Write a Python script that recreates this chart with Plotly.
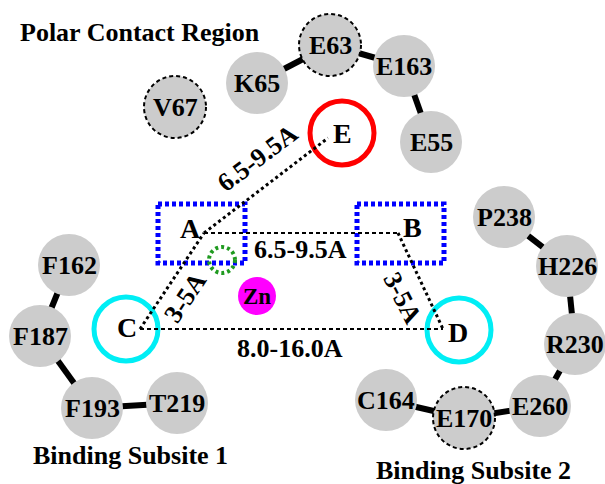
import plotly.graph_objects as go

# ---- data (pixel-space diagram coordinates, y grows downward) ----
residues = ["E63", "E163", "E55", "K65", "V67",
            "F162", "F187", "F193", "T219",
            "P238", "H226", "R230", "E260", "E170", "C164"]
res_x = [330, 404, 431, 257, 175, 69, 40, 92, 177, 504, 567, 575, 540, 464, 386]
res_y = [45, 66, 142, 83, 107, 265, 336, 408, 403, 217, 266, 344, 406, 418, 400]
res_dashed = ["E63", "V67", "E170"]

links = [("K65", "E63"), ("E63", "E163"), ("E163", "E55"),
         ("F162", "F187"), ("F187", "F193"), ("F193", "T219"),
         ("P238", "H226"), ("H226", "R230"), ("R230", "E260"),
         ("E260", "E170"), ("E170", "C164")]

sites = ["A", "B", "C", "D", "E"]
site_x = [204, 398, 140, 443, 328]
site_y = [233, 233, 329, 329, 138]
site_label_x = [190, 412, 127, 458, 342]
site_label_y = [228, 227, 327, 332, 133]

distances = [("A", "E", "6.5-9.5A", "dot"), ("A", "B", "6.5-9.5A", "dash"),
             ("C", "A", "3-5A", "dot"), ("B", "D", "3-5A", "dot"),
             ("C", "D", "8.0-16.0A", "dash")]
dist_label_x = [257, 300, 185, 403, 290]
dist_label_y = [158, 249, 297, 298, 348]
dist_label_angle = [-37, 0, -56, 63, 0]

regions = ["Polar Contact Region", "Binding Subsite 1", "Binding Subsite 2"]
region_x = [140, 130, 473]
region_y = [32, 455, 470]

FONT = "Liberation Serif"
R = 31

fig = go.Figure()
shapes = []
annotations = []

pos = dict(zip(residues, zip(res_x, res_y)))
spos = dict(zip(sites, zip(site_x, site_y)))

# residue chain links
for a, b in links:
    (x0, y0), (x1, y1) = pos[a], pos[b]
    shapes.append(dict(type="line", x0=x0, y0=y0, x1=x1, y1=y1,
                       line=dict(color="black", width=6)))

# residue circles
for name, x, y in zip(residues, res_x, res_y):
    dashed = name in res_dashed
    shapes.append(dict(type="circle", x0=x - R, x1=x + R, y0=y - R, y1=y + R,
                       fillcolor="#cccccc",
                       line=dict(color="black" if dashed else "#cccccc",
                                 width=2 if dashed else 0,
                                 dash="4px,3px" if dashed else "solid")))
    annotations.append(dict(x=x, y=y, text=f"<b>{name}</b>", showarrow=False,
                            font=dict(family=FONT, size=26, color="black")))

# pharmacophore boxes A, B
for name in ["A", "B"]:
    x0 = 158 if name == "A" else 357
    shapes.append(dict(type="rect", x0=x0, x1=x0 + 87, y0=204, y1=263,
                       line=dict(color="#0000ff", width=5, dash="4px,3px")))

# site circles C, D (cyan), E (red)
for cx, cy, col in [(126, 329, "#00eef5"), (459, 330, "#00eef5"), (342, 133, "#ff0000")]:
    shapes.append(dict(type="circle", x0=cx - 32, x1=cx + 32, y0=cy - 32, y1=cy + 32,
                       line=dict(color=col, width=5)))

# green dotted circle and Zn
shapes.append(dict(type="circle", x0=209, x1=235, y0=247, y1=273,
                   line=dict(color="#1f9a1f", width=4, dash="3px,3px")))
shapes.append(dict(type="circle", x0=238, x1=276, y0=277, y1=315,
                   fillcolor="#ff00ff", line=dict(width=0)))
annotations.append(dict(x=257, y=296, text="<b>Zn</b>", showarrow=False,
                        font=dict(family=FONT, size=23, color="black")))

# distance lines
for (a, b, lab, style), lx, ly, ang in zip(distances, dist_label_x, dist_label_y, dist_label_angle):
    (x0, y0), (x1, y1) = spos[a], spos[b]
    shapes.append(dict(type="line", x0=x0, y0=y0, x1=x1, y1=y1,
                       line=dict(color="black", width=3 if style == "dot" else 2,
                                 dash="3px,3px" if style == "dot" else "4px,3px")))
    annotations.append(dict(x=lx, y=ly, text=f"<b>{lab}</b>", showarrow=False,
                            textangle=ang,
                            font=dict(family=FONT, size=26, color="black")))

# site labels
for name, lx, ly in zip(sites, site_label_x, site_label_y):
    annotations.append(dict(x=lx, y=ly, text=f"<b>{name}</b>", showarrow=False,
                            font=dict(family=FONT, size=28, color="black")))

# region titles
for name, x, y in zip(regions, region_x, region_y):
    annotations.append(dict(x=x, y=y, text=f"<b>{name}</b>", showarrow=False,
                            font=dict(family=FONT, size=26, color="black")))

fig.update_layout(
    width=605, height=484,
    margin=dict(l=0, r=0, t=0, b=0),
    paper_bgcolor="white", plot_bgcolor="white",
    xaxis=dict(range=[0, 605], visible=False, fixedrange=True),
    yaxis=dict(range=[484, 0], visible=False, fixedrange=True),
    shapes=shapes, annotations=annotations, showlegend=False,
)
fig.write_html("out.html", config={"displayModeBar": False},
               post_script="document.body.style.margin='0';document.body.style.overflow='hidden';")
